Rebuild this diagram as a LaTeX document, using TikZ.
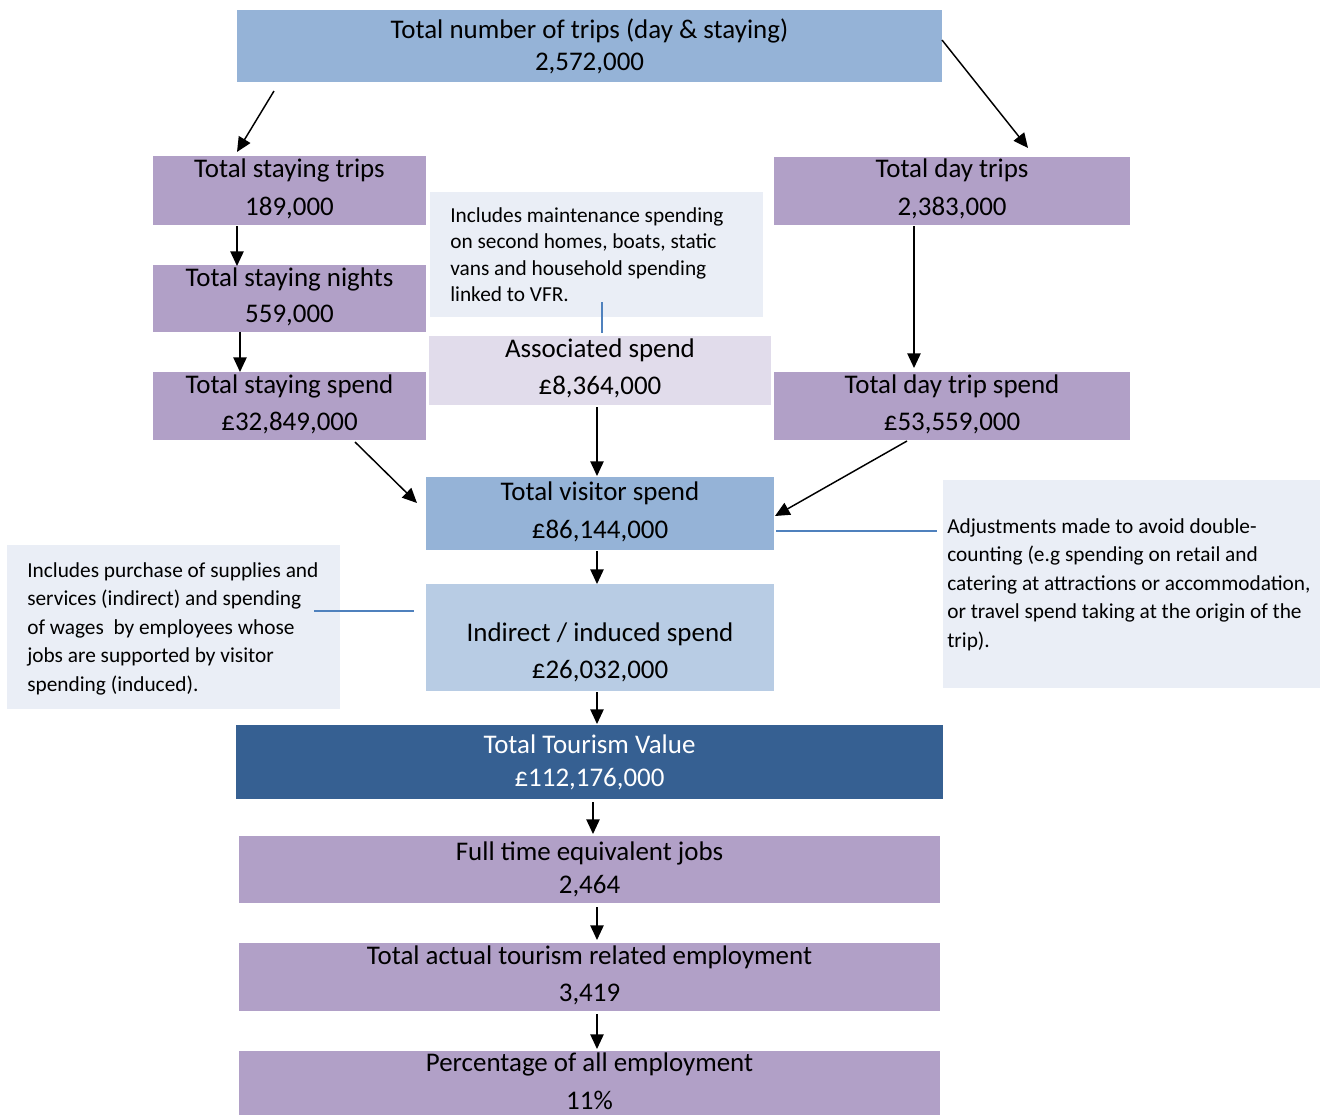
\documentclass[tikz,border=0pt]{standalone}
\usepackage{fontspec}
\setmainfont{Carlito}
\usetikzlibrary{arrows.meta,calc,fit}
\definecolor{topblue}{HTML}{95B3D7}
\definecolor{purp}{HTML}{B1A0C7}
\definecolor{notefill}{HTML}{EAEEF6}
\definecolor{assocfill}{HTML}{E1DCEB}
\definecolor{indfill}{HTML}{B8CCE4}
\definecolor{darkblue}{HTML}{366092}
\definecolor{lineblue}{HTML}{4F81BD}
\begin{document}
\begin{tikzpicture}[x=0.75pt,y=-0.75pt,
  boxbase/.style={inner sep=0pt, outer sep=0pt, draw=none},
  pbox/.style={boxbase, fill=purp},
  bbox/.style={boxbase, fill=topblue},
  nbox/.style={boxbase, fill=notefill},
  btxt/.style={anchor=base, inner sep=0pt, text=black, font=\fontsize{20.2}{24}\selectfont},
  wtxt/.style={btxt, text=white},
  ntxt/.style={anchor=north west, align=left, inner sep=0pt, text=black},
  arr/.style={line width=1.1pt, -{Triangle[length=11pt,width=10pt]}},
  bline/.style={draw=lineblue, line width=1.1pt}]
\useasboundingbox (0,0) rectangle (1323,1115);
\fill[white] (0,0) rectangle (1323,1115);

% boxes
\node[bbox, fit={(237,10)(942,82)}] (top) {};
\node[pbox, fit={(153,156)(426,225)}] (stay) {};
\node[pbox, fit={(153,265)(426,332)}] (nights) {};
\node[pbox, fit={(153,372)(426,440)}] (sspend) {};
\node[pbox, fit={(774,157)(1130,225)}] (day) {};
\node[pbox, fit={(774,372)(1130,440)}] (dspend) {};
\node[nbox, fit={(430,192)(763,317)}] (note1) {};
\node[boxbase, fill=assocfill, fit={(429,336)(771,405)}] (assoc) {};
\node[bbox, fit={(426,477)(774,550)}] (visitor) {};
\node[nbox, fit={(943,480)(1320,688)}] (note2) {};
\node[boxbase, fill=indfill, fit={(426,584)(774,691)}] (indirect) {};
\node[nbox, fit={(7,545)(340,709)}] (note3) {};
\node[boxbase, fill=darkblue, fit={(236,725)(943,799)}] (value) {};
\node[pbox, fit={(239,836)(940,903)}] (fte) {};
\node[pbox, fit={(239,943)(940,1011)}] (actual) {};
\node[pbox, fit={(239,1051)(940,1115)}] (pct) {};

% box texts
\node[btxt] (top1) at (589.5,38) {Total number of trips (day \& staying)};
\node[btxt] (top2) at (589.5,70) {2,572,000};
\node[btxt] (stay1) at (289.5,177) {Total staying trips};
\node[btxt] (stay2) at (289.5,215) {189,000};
\node[btxt] (nights1) at (289.5,286) {Total staying nights};
\node[btxt] (nights2) at (289.5,322) {559,000};
\node[btxt] (sspend1) at (289.5,393) {Total staying spend};
\node[btxt] (sspend2) at (289.5,430) {£32,849,000};
\node[btxt] (day1) at (952,177) {Total day trips};
\node[btxt] (day2) at (952,215) {2,383,000};
\node[btxt] (dspend1) at (952,393) {Total day trip spend};
\node[btxt] (dspend2) at (952,430) {£53,559,000};
\node[btxt] (assoc1) at (600,357) {Associated spend};
\node[btxt] (assoc2) at (600,394) {£8,364,000};
\node[btxt] (visitor1) at (600,500) {Total visitor spend};
\node[btxt] (visitor2) at (600,538) {£86,144,000};
\node[btxt] (indirect1) at (600,641) {Indirect / induced spend};
\node[btxt] (indirect2) at (600,678) {£26,032,000};
\node[wtxt] (value1) at (589.5,753) {Total Tourism Value};
\node[wtxt] (value2) at (589.5,786) {£112,176,000};
\node[btxt] (fte1) at (589.5,860) {Full time equivalent jobs};
\node[btxt] (fte2) at (589.5,893) {2,464};
\node[btxt] (actual1) at (589.5,964) {Total actual tourism related employment};
\node[btxt] (actual2) at (589.5,1001) {3,419};
\node[btxt] (pct1) at (589.5,1071) {Percentage of all employment};
\node[btxt] (pct2) at (589.5,1109) {11\%};

% note texts
\node[ntxt, font=\fontsize{16}{19.9}\selectfont] (note1t) at (450,207)
  {Includes maintenance spending\\on second homes, boats, static\\vans and household spending\\linked to VFR.};
\node[ntxt, font=\fontsize{16}{21.4}\selectfont] (note2t) at (947,518)
  {Adjustments made to avoid double-\\counting (e.g spending on retail and\\catering at attractions or accommodation,\\or travel spend taking at the origin of the\\trip).};
\node[ntxt, font=\fontsize{16}{21.4}\selectfont] (note3t) at (27,562)
  {Includes purchase of supplies and\\services (indirect) and spending\\of wages\ \ by employees whose\\jobs are supported by visitor\\spending (induced).};

% arrows
\draw[arr] ($(top.south west)+(37,9)$) -- ($(stay.north west)+(84,-4)$);
\draw[arr] ($(top.east)+(0,-6)$) -- ($(day.north west)+(254,-9)$);
\draw[arr] ($(stay.south west)+(84,1)$) -- ($(nights.north west)+(84,1)$);
\draw[arr] ($(nights.south west)+(87,0)$) -- ($(sspend.north west)+(87,0)$);
\draw[arr] ($(day.south west)+(140,1)$) -- ($(dspend.north west)+(140,-4)$);
\draw[arr] ($(sspend.south west)+(202,2)$) -- ($(visitor.west)+(-9,-10.5)$);
\draw[arr] ($(assoc.south west)+(168,2)$) -- ($(visitor.north west)+(171,-1)$);
\draw[arr] ($(dspend.south west)+(133,1)$) -- ($(visitor.east)+(1,2.5)$);
\draw[arr] ($(visitor.south west)+(171,1)$) -- ($(indirect.north west)+(171,0)$);
\draw[arr] ($(indirect.south west)+(171,1)$) -- ($(value.north west)+(361,-1)$);
\draw[arr] ($(value.south west)+(357,3)$) -- ($(fte.north west)+(354,-2)$);
\draw[arr] ($(fte.south west)+(358,4)$) -- ($(actual.north west)+(358,-3)$);
\draw[arr] ($(actual.south west)+(358,3)$) -- ($(pct.north west)+(358,-2)$);

% blue callout lines
\draw[bline] ($(note1.south west)+(172,-15)$) -- ($(assoc.north west)+(173,-3)$);
\draw[bline] ($(visitor.east)+(2,17.5)$) -- ($(note2.west)+(-6,-53)$);
\draw[bline] ($(note3.east)+(-26,-16)$) -- ($(indirect.west)+(-12,-26.5)$);
\end{tikzpicture}
\end{document}
